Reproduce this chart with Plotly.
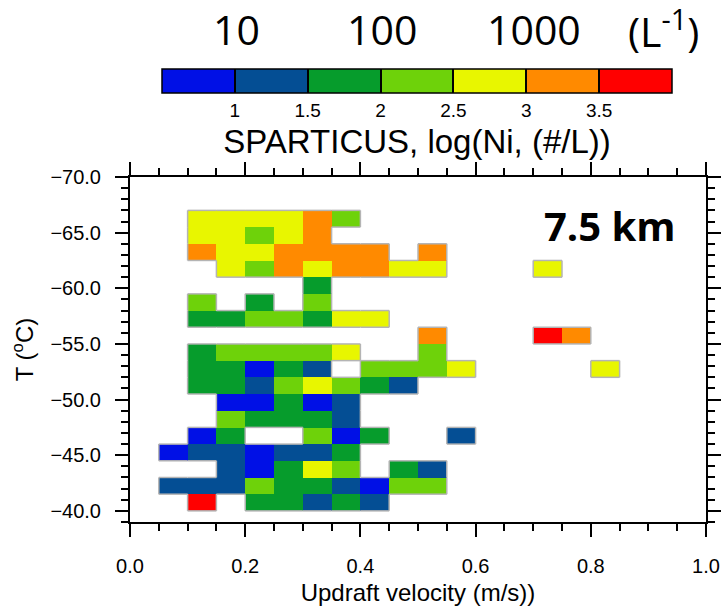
import plotly.graph_objects as go

# ---- data -------------------------------------------------------------
# bin edges (updraft velocity, m/s) and (temperature, degC)
VEL_EDGES = [round(0.05 * i, 2) for i in range(21)]
TEMP_EDGES = [-70 + 1.5 * j for j in range(21)]

# class values of log10(Ni) (class mid values)
B, D, G, L, Y, O, R = 0.75, 1.25, 1.75, 2.25, 2.75, 3.25, 3.75
N = None

# rows: temperature bins from -70 (top) to -40 (bottom); columns: velocity bins 0..1
Z_ROWS = [
    [N, N, N, N, N, N, N, N, N, N, N, N, N, N, N, N, N, N, N, N],  # -70.0 .. -68.5
    [N, N, N, N, N, N, N, N, N, N, N, N, N, N, N, N, N, N, N, N],  # -68.5 .. -67.0
    [N, N, Y, Y, Y, Y, O, L, N, N, N, N, N, N, N, N, N, N, N, N],  # -67.0 .. -65.5
    [N, N, Y, Y, L, Y, O, N, N, N, N, N, N, N, N, N, N, N, N, N],  # -65.5 .. -64.0
    [N, N, O, Y, Y, O, O, O, O, N, O, N, N, N, N, N, N, N, N, N],  # -64.0 .. -62.5
    [N, N, N, Y, L, O, Y, O, O, Y, Y, N, N, N, Y, N, N, N, N, N],  # -62.5 .. -61.0
    [N, N, N, N, N, N, G, N, N, N, N, N, N, N, N, N, N, N, N, N],  # -61.0 .. -59.5
    [N, N, L, N, G, N, L, N, N, N, N, N, N, N, N, N, N, N, N, N],  # -59.5 .. -58.0
    [N, N, G, G, L, L, G, Y, Y, N, N, N, N, N, N, N, N, N, N, N],  # -58.0 .. -56.5
    [N, N, N, N, N, N, N, N, N, N, O, N, N, N, R, O, N, N, N, N],  # -56.5 .. -55.0
    [N, N, G, L, L, L, L, Y, N, N, L, N, N, N, N, N, N, N, N, N],  # -55.0 .. -53.5
    [N, N, G, G, B, G, D, N, L, L, L, Y, N, N, N, N, Y, N, N, N],  # -53.5 .. -52.0
    [N, N, G, G, D, L, Y, L, G, D, N, N, N, N, N, N, N, N, N, N],  # -52.0 .. -50.5
    [N, N, N, B, B, G, B, D, N, N, N, N, N, N, N, N, N, N, N, N],  # -50.5 .. -49.0
    [N, N, N, L, G, G, G, D, N, N, N, N, N, N, N, N, N, N, N, N],  # -49.0 .. -47.5
    [N, N, B, G, N, N, L, B, G, N, N, D, N, N, N, N, N, N, N, N],  # -47.5 .. -46.0
    [N, B, D, D, B, D, D, G, N, N, N, N, N, N, N, N, N, N, N, N],  # -46.0 .. -44.5
    [N, N, N, D, B, G, Y, L, N, G, D, N, N, N, N, N, N, N, N, N],  # -44.5 .. -43.0
    [N, D, D, D, L, G, G, D, B, L, L, N, N, N, N, N, N, N, N, N],  # -43.0 .. -41.5
    [N, N, R, N, G, G, D, G, D, N, N, N, N, N, N, N, N, N, N, N],  # -41.5 .. -40.0
]

LEVELS = [1, 1.5, 2, 2.5, 3, 3.5]
LEVEL_LABELS = ["1", "1.5", "2", "2.5", "3", "3.5"]
CLASS_COLORS = ["#0010E6", "#044E94", "#069C2C", "#6ED20A", "#E8F600", "#FF8A00", "#FF0000"]
ZMIN, ZMAX = 0.5, 4.0
CONC_LABELS = ["10", "100", "1000", "(L<sup>-1</sup>)"]

# ---- layout geometry (px) ---------------------------------------------
W, H = 722, 608
ML, MR, MT, MB = 130, 16, 177, 86
PW, PH = W - ML - MR, H - MT - MB

def px_x(px):
    return (px - ML) / PW

def px_y(py):
    return 1 - (py - MT) / PH

# ---- colorscale --------------------------------------------------------
n = len(CLASS_COLORS)
cscale = []
for k, col in enumerate(CLASS_COLORS):
    cscale.append([k / n, col])
    cscale.append([(k + 1) / n, col])

fig = go.Figure()

fig.add_trace(go.Heatmap(
    x=VEL_EDGES, y=TEMP_EDGES, z=Z_ROWS,
    zmin=ZMIN, zmax=ZMAX, colorscale=cscale,
    hoverongaps=False,
    colorbar=dict(
        orientation="h",
        x=px_x(417), xanchor="center",
        y=px_y(69), yanchor="top", ypad=0, xpad=0,
        len=510, lenmode="pixels",
        thickness=24,
        outlinecolor="black", outlinewidth=1.5,
        tickvals=LEVELS, ticktext=LEVEL_LABELS,
        ticks="inside", ticklen=24, tickwidth=1.5, tickcolor="black",
        tickfont=dict(family="Liberation Sans", size=19, color="black"),
        title=dict(text="SPARTICUS, log(Ni, (#/L))", side="bottom",
                   font=dict(family="Liberation Sans", size=33, color="black")),
    ),
))

# gray outline around the filled region (derived from the grid)
ox, oy = [], []
nr, nc = len(Z_ROWS), len(Z_ROWS[0])

def filled(j, c):
    return 0 <= j < nr and 0 <= c < nc and Z_ROWS[j][c] is not None

for j in range(nr):
    for c in range(nc):
        if not filled(j, c):
            continue
        x0, x1 = VEL_EDGES[c], VEL_EDGES[c + 1]
        y0, y1 = TEMP_EDGES[j], TEMP_EDGES[j + 1]
        if not filled(j - 1, c):
            ox += [x0, x1, None]; oy += [y0, y0, None]
        if not filled(j + 1, c):
            ox += [x0, x1, None]; oy += [y1, y1, None]
        if not filled(j, c - 1):
            ox += [x0, x0, None]; oy += [y0, y1, None]
        if not filled(j, c + 1):
            ox += [x1, x1, None]; oy += [y0, y1, None]
fig.add_trace(go.Scatter(x=ox, y=oy, mode="lines",
                         line=dict(color="#B4B4B4", width=1.5),
                         hoverinfo="skip", showlegend=False))

axis_common = dict(
    showline=True, linewidth=2, linecolor="black", mirror="ticks",
    ticks="outside", ticklen=13, tickwidth=2, tickcolor="black",
    showgrid=False, zeroline=False, automargin=False,
    tickfont=dict(family="Liberation Sans", size=20, color="black"),
)

fig.update_xaxes(
    range=[0, 1], tick0=0, dtick=0.2, tickformat=".1f",
    minor=dict(dtick=0.05, ticklen=7, tickwidth=2, tickcolor="black", ticks="outside"),
    title=dict(text="Updraft velocity (m/s))", standoff=8,
               font=dict(family="Liberation Sans", size=24, color="black")),
    ticklabelstandoff=12,
    **axis_common,
)
fig.update_yaxes(
    range=[-39, -70], tick0=-70, dtick=5, tickformat=".1f",
    minor=dict(dtick=1, ticklen=7, tickwidth=2, tickcolor="black", ticks="outside"),
    title=dict(text="T (<sup>o</sup>C)", standoff=10,
               font=dict(family="Liberation Sans", size=24, color="black")),
    ticklabelstandoff=10,
    **axis_common,
)

ann_font = dict(family="Open Sans", size=41, color="black")
for txt, px in zip(CONC_LABELS, [236, 382, 534, 663]):
    fig.add_annotation(text=txt, x=px_x(px), y=px_y(29),
                       xref="paper", yref="paper", showarrow=False, font=ann_font,
                       xanchor="center", yanchor="middle")

fig.add_annotation(text="<b>7.5 km</b>", x=px_x(610), y=px_y(225),
                   xref="paper", yref="paper", showarrow=False,
                   font=dict(family="Open Sans", size=40, color="black"),
                   xanchor="center", yanchor="middle")

fig.update_layout(
    width=W, height=H,
    margin=dict(l=ML, r=MR, t=MT, b=MB, autoexpand=False),
    plot_bgcolor="white", paper_bgcolor="white",
    showlegend=False,
)

fig.write_html(
    "out.html",
    config={"displayModeBar": False},
    post_script=("document.body.style.margin='0';"
                 "document.body.style.overflow='hidden';"
                 "document.documentElement.style.overflow='hidden';"),
)
